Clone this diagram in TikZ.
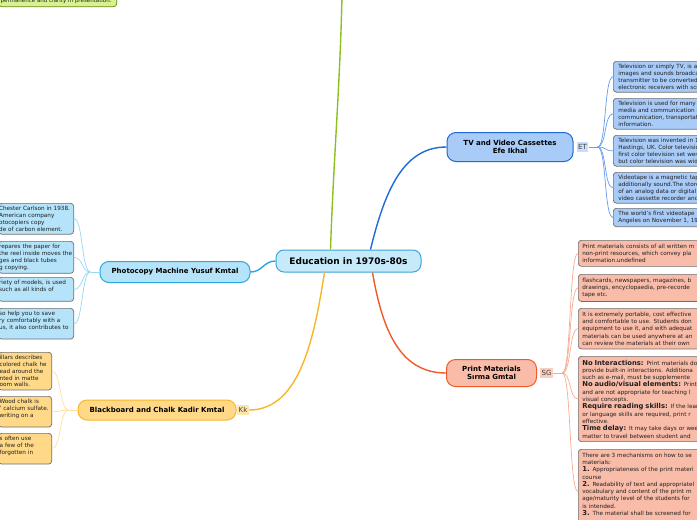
\documentclass[tikz,border=0pt]{standalone}
\usepackage{fontspec}
\setmainfont{DejaVu Sans}
\usetikzlibrary{positioning, calc}
\definecolor{centrefill}{RGB}{198,234,250}
\definecolor{centreline}{RGB}{60,165,220}
\definecolor{cyan1}{RGB}{41,168,224}
\definecolor{cyanfill}{RGB}{180,227,250}
\definecolor{cyanlink}{RGB}{150,215,245}
\definecolor{blue1}{RGB}{30,106,214}
\definecolor{bluefill}{RGB}{168,203,248}
\definecolor{bluelink}{RGB}{100,155,235}
\definecolor{bluetag}{RGB}{200,222,251}
\definecolor{red1}{RGB}{240,90,42}
\definecolor{redfill}{RGB}{249,188,168}
\definecolor{redlink}{RGB}{248,170,145}
\definecolor{redtag}{RGB}{250,205,190}
\definecolor{yellow1}{RGB}{247,182,40}
\definecolor{yellowfill}{RGB}{255,217,135}
\definecolor{yellowlink}{RGB}{255,222,150}
\definecolor{yellowtag}{RGB}{255,230,170}
\definecolor{green1}{RGB}{140,192,30}
\definecolor{greenfill}{RGB}{216,242,143}
\definecolor{leafline}{RGB}{110,110,110}
\newcommand{\leafhead}{\fontsize{6.8}{7.3}\selectfont\bfseries}

\begin{document}
\begin{tikzpicture}[x=1pt, y=-1pt,
    centre/.style={draw=centreline, fill=centrefill, line width=1pt, rounded corners=8pt,
      font=\fontsize{9}{10}\selectfont\bfseries, minimum width=145pt, minimum height=22pt},
    branch/.style={line width=1pt, rounded corners=9pt, align=center,
      font=\fontsize{7}{8.5}\selectfont\bfseries},
    tag/.style={font=\fontsize{7}{8}\selectfont, text=black!75, inner xsep=1.5pt, inner ysep=2.5pt},
    leaf/.style={draw=leafline, line width=0.7pt, rounded corners=3pt, align=left, text=black!88,
      font=\fontsize{5.7}{6.8}\selectfont, inner ysep=3pt},
    tvleaf/.style={leaf, fill=bluefill, text width=200pt, inner xsep=5pt, anchor=north west},
    printleaf/.style={leaf, fill=redfill, text width=200pt, inner xsep=4pt, inner ysep=3.5pt,
      anchor=north west, font=\fontsize{5.7}{7.3}\selectfont},
    photoleaf/.style={leaf, fill=cyanfill, text width=74pt, inner xsep=0.5pt, anchor=north east},
    boardleaf/.style={leaf, fill=yellowfill, text width=51pt, inner xsep=1pt, anchor=north east},
    link/.style={line width=1.4pt},
    twig/.style={line width=0.7pt}]
  \useasboundingbox (0,0) rectangle (697,520);
  \clip (0,0) rectangle (697,520);

  % centre
  \node[centre] (edu) at (348.5,261) {Education in 1970s-80s};

  % main branches
  \node[branch, fill=cyanfill, draw=cyan1, minimum width=150pt, minimum height=21pt] (photo) at (175,272) {Photocopy Machine Yusuf Kmtal};
  \node[branch, fill=yellowfill, draw=yellow1, minimum width=158pt, minimum height=20pt] (board) at (157,410) {Blackboard and Chalk Kadir Kmtal};
  \node[tag, fill=yellowtag, right=0.5pt of board] (kk) {Kk};
  \node[branch, fill=bluefill, draw=blue1, minimum width=126pt, minimum height=29pt] (tv) at (510,147) {TV and Video Cassettes\\Efe Ikhal};
  \node[tag, fill=bluetag, right=3pt of tv] (et) {ET};
  \node[branch, fill=redfill, draw=red1, minimum width=90pt, minimum height=27pt] (print) at (491.5,373) {Print Materials\\Sırma Gmtal};
  \node[tag, fill=redtag, right=3pt of print] (sg) {SG};
  \coordinate (up) at (342,-4);

  \draw[link, green1] ([xshift=-18pt]edu.north) .. controls +(3,-90) and +(-2,90) .. (up);
  \draw[link, blue1] ([xshift=22pt]edu.north) .. controls +(15,-62) and +(-42,0) .. (tv.west);
  \draw[link, cyan1] (edu.west) .. controls +(-12,0) and +(12,0) .. (photo.east);
  \draw[link, yellow1] ([xshift=-24pt]edu.south) .. controls +(-10,62) and +(52,0) .. (kk.east);
  \draw[link, red1] ([xshift=24pt]edu.south) .. controls +(10,58) and +(-46,0) .. (print.west);

  % green leaf at the top
  \node[leaf, fill=greenfill, draw=green1!70!black, text width=116pt, inner xsep=1pt,
    font=\fontsize{5.5}{6.8}\selectfont, anchor=south east] (green) at (117,7) {\hspace*{1pt}permanence and clarity in presentation.};

  % TV leaves
  \node[tvleaf] (t1) at (613,61) {Television or simply TV, is a s\\images and sounds broadcas\\transmitter to be converted b\\electronic receivers with scre};
  \node[tvleaf] (t2) at (613,98) {Television is used for many p\\media and communication ce\\communication, transportati\\information.};
  \node[tvleaf] (t3) at (613,135) {Television was invented in 19\\Hastings, UK. Color televisio\\first color television set went\\but color television was wide};
  \node[tvleaf] (t4) at (613,172) {Videotape is a magnetic tape\\additionally sound.The stored\\of an analog data or digital s\\video cassette recorder and t};
  \node[tvleaf] (t5) at (613,208) {The world's first videotape re\\Angeles on November 1, 195};
  \coordinate (etfork) at ($(et.east)+(9,0)$);
  \draw[twig, bluelink] (et.east) -- (etfork);
  \foreach \n in {t1,t2,t3,t4,t5}
    \draw[twig, bluelink] (etfork) .. controls +(9,0) and +(-9,0) .. (\n.west);

  % print leaves
  \node[printleaf] (p1) at (578,240) {Print materials consists of all written m\\non-print resources, which convey pla\\information.undefined};
  \node[printleaf] (p2) at (578,274) {flashcards, newspapers, magazines, b\\drawings, encyclopaedia, pre-recorde\\tape etc.};
  \node[printleaf] (p3) at (578,308) {It is extremely portable, cost effective\\and comfortable to use. Students don\\equipment to use it, and with adequat\\materials can be used anywhere at an\\can review the materials at their own};
  \node[printleaf] (p4) at (578,356) {{\leafhead No Interactions:} Print materials do n\\provide built-in interactions. Additiona\\such as e-mail, must be supplemente\\{\leafhead No audio/visual elements:} Print ma\\and are not appropriate for teaching l\\visual concepts.\\{\leafhead Require reading skills:} If the learne\\or language skills are required, print r\\effective.\\{\leafhead Time delay:} It may take days or wee\\matter to travel between student and};
  \node[printleaf] (p5) at (578,449) {There are 3 mechanisms on how to se\\materials:\\{\leafhead 1.} Appropriateness of the print materi\\course\\{\leafhead 2.} Readability of text and appropriatel\\vocabulary and content of the print m\\age/maturity level of the students for\\is intended.\\{\leafhead 3.} The material shall be screened for\\\mbox{}\\\mbox{}};
  \coordinate (sgfork) at ($(sg.east)+(9,0)$);
  \draw[twig, redlink] (sg.east) -- (sgfork);
  \foreach \n in {p1,p2,p3,p4,p5}
    \draw[twig, redlink] (sgfork) .. controls +(9,0) and +(-9,0) .. (\n.west);

  % photocopy leaves
  \node[photoleaf] (c1) at (74,203) {Chester Carlson in 1938.\\American company\\otocopiers copy\\de of carbon element.};
  \node[photoleaf] (c2) at (74,241) {repares the paper for\\the reel inside moves the\\ges and black tubes\\g copying.};
  \node[photoleaf] (c3) at (74,277) {riety of models, is used\\such as all kinds of\\\mbox{}};
  \node[photoleaf] (c4) at (74,308) {so help you to save\\ry comfortably with a\\us, it also contributes to\\\mbox{}};
  \coordinate (photofork) at ($(photo.west)+(-9,0)$);
  \draw[twig, cyanlink] (photo.west) -- (photofork);
  \foreach \n in {c1,c2,c3,c4}
    \draw[twig, cyanlink] (photofork) .. controls +(-9,0) and +(9,0) .. (\n.east);

  % blackboard leaves
  \node[boardleaf] (b1) at (52,352) {illars describes\\colored chalk he\\ead around the\\nted in matte\\oom walls.};
  \node[boardleaf] (b2) at (52,396) {Wood chalk is\\' calcium sulfate.\\writing on a\\\mbox{}};
  \node[boardleaf] (b3) at (52,433) {s often use\\a few of the\\forgotten in\\\mbox{}};
  \coordinate (boardfork) at ($(board.west)+(-9,0)$);
  \draw[twig, yellowlink] (board.west) -- (boardfork);
  \foreach \n in {b1,b2,b3}
    \draw[twig, yellowlink] (boardfork) .. controls +(-9,0) and +(9,0) .. (\n.east);
\end{tikzpicture}
\end{document}
